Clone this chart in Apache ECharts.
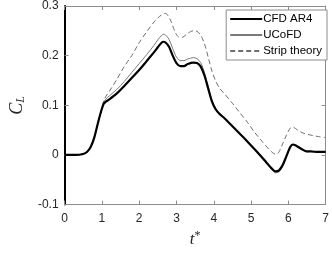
<!DOCTYPE html>
<html><head><meta charset="utf-8">
<script src="https://cdn.jsdelivr.net/npm/echarts@6/dist/echarts.min.js"></script>
<style>html,body{margin:0;padding:0;background:#fff}#c{width:332px;height:253px}</style>
</head><body><div id="c"></div>
<script>
const seriesNames = ['CFD AR4', 'UCoFD', 'Strip theory'];
const xTicks = [0, 1, 2, 3, 4, 5, 6, 7];
const yTicks = [-0.1, 0, 0.1, 0.2, 0.3];

const cfdT = [0,0.3,0.5,0.6,0.7,0.8,0.9,1.0,1.05,1.1,1.2,1.4,1.6,1.8,2.0,2.2,2.4,2.5,2.6,2.65,2.7,2.8,2.9,3.0,3.1,3.2,3.3,3.45,3.55,3.65,3.75,3.85,3.95,4.05,4.15,4.3,4.5,4.8,5.0,5.2,5.4,5.55,5.65,5.75,5.85,5.95,6.05,6.12,6.2,6.35,6.5,6.6,6.8,7.0];
const cfdV = [0,0,0.002,0.006,0.016,0.036,0.066,0.093,0.103,0.107,0.112,0.124,0.139,0.155,0.171,0.189,0.207,0.217,0.226,0.228,0.227,0.218,0.2,0.185,0.179,0.179,0.183,0.186,0.185,0.178,0.16,0.134,0.108,0.092,0.083,0.073,0.058,0.035,0.019,0.003,-0.014,-0.027,-0.033,-0.031,-0.02,-0.002,0.016,0.021,0.019,0.012,0.007,0.007,0.006,0.006];

const ucoT = [0,0.3,0.5,0.6,0.7,0.8,0.9,1.0,1.05,1.1,1.2,1.4,1.6,1.8,2.0,2.2,2.4,2.5,2.6,2.65,2.7,2.8,2.9,3.0,3.1,3.2,3.3,3.45,3.55,3.65,3.75,3.85,3.95,4.05,4.15,4.3,4.5,4.8,5.0,5.2,5.4,5.55,5.65,5.75,5.85,5.95,6.05,6.12,6.2,6.35,6.5,6.6,6.8,7.0];
const ucoV = [0,0,0.002,0.006,0.016,0.036,0.066,0.094,0.106,0.112,0.119,0.132,0.148,0.166,0.184,0.202,0.221,0.232,0.241,0.243,0.242,0.233,0.214,0.197,0.19,0.19,0.193,0.196,0.194,0.186,0.166,0.138,0.11,0.094,0.084,0.074,0.058,0.035,0.019,0.002,-0.016,-0.029,-0.036,-0.034,-0.022,-0.003,0.016,0.021,0.019,0.012,0.006,0.007,0.006,0.006];

const stripT = [0,0.3,0.5,0.6,0.7,0.8,0.9,1.0,1.05,1.1,1.2,1.4,1.6,1.8,2.0,2.2,2.4,2.5,2.6,2.7,2.75,2.85,2.95,3.05,3.15,3.3,3.45,3.55,3.65,3.75,3.85,3.95,4.05,4.15,4.3,4.5,4.7,4.9,5.1,5.3,5.5,5.65,5.72,5.82,5.95,6.05,6.12,6.25,6.4,6.6,6.8,7.0];
const stripV = [0,0,0.002,0.006,0.016,0.036,0.066,0.095,0.109,0.117,0.128,0.152,0.178,0.2,0.226,0.248,0.268,0.276,0.282,0.285,0.283,0.27,0.25,0.238,0.237,0.245,0.25,0.249,0.241,0.224,0.197,0.169,0.149,0.135,0.122,0.104,0.085,0.066,0.045,0.027,0.01,0.002,0.003,0.018,0.04,0.054,0.056,0.05,0.044,0.04,0.037,0.035];

const zip = (a, b) => a.map((t, i) => [t, b[i]]);

const chart = echarts.init(document.getElementById('c'), null, {renderer: 'canvas'});
const labelStyle = {color: '#262626', fontSize: 12, fontFamily: 'Liberation Sans, Arial'};
const grey = '#8c8c8c';
chart.setOption({
  animation: false,
  backgroundColor: '#fff',
  grid: {left: 48, right: 4, top: 5, bottom: 38, containLabel: false},
  legend: {
    data: seriesNames,
    orient: 'vertical',
    right: 5, top: 10,
    backgroundColor: '#fff',
    borderColor: '#8c8c8c', borderWidth: 1,
    padding: [3, 5, 3, 3],
    itemWidth: 32, itemHeight: 12, itemGap: 4,
    itemStyle: {opacity: 0},
    textStyle: {fontSize: 11.5, color: '#000', fontFamily: 'Liberation Sans, Arial', padding: [0,0,0,-4]}
  },
  xAxis: [{
    type: 'value', min: xTicks[0], max: xTicks[xTicks.length-1], interval: 1,
    position: 'bottom',
    axisLine: {show: true, onZero: false, lineStyle: {color: grey, width: 1}},
    axisTick: {inside: true, length: 4, lineStyle: {color: grey}},
    axisLabel: Object.assign({margin: 8}, labelStyle),
    splitLine: {show: false},
    name: '{i|t}{s|*}', nameLocation: 'middle', nameGap: 23,
    nameTextStyle: {rich: {
      i: {fontFamily: 'Liberation Serif', fontStyle: 'italic', fontSize: 17, color: '#262626'},
      s: {fontFamily: 'Liberation Serif', fontSize: 12, color: '#262626', verticalAlign: 'top', padding: [0,0,8,0]}
    }}
  }, {
    type: 'value', min: xTicks[0], max: xTicks[xTicks.length-1], interval: 1,
    position: 'top',
    axisLine: {show: true, onZero: false, lineStyle: {color: grey, width: 1}},
    axisTick: {inside: true, length: 4, lineStyle: {color: grey}},
    axisLabel: {show: false}, splitLine: {show: false}
  }],
  yAxis: [{
    type: 'value', min: yTicks[0], max: yTicks[yTicks.length-1], interval: 0.1,
    position: 'left',
    axisLine: {show: true, onZero: false, lineStyle: {color: '#000', width: 2}},
    axisTick: {show: true, inside: true, length: 4, lineStyle: {color: grey}},
    axisLabel: Object.assign({margin: 6, formatter: v => String(Math.round(v*10)/10)}, labelStyle),
    splitLine: {show: false},
    name: '{c|C}{l|L}', nameLocation: 'middle', nameGap: 28, nameRotate: 90,
    nameTextStyle: {rich: {
      c: {fontFamily: 'Liberation Serif', fontStyle: 'italic', fontSize: 18, color: '#262626'},
      l: {fontFamily: 'Liberation Serif', fontStyle: 'italic', fontSize: 12, color: '#262626', verticalAlign: 'bottom', padding: [8,0,0,0]}
    }}
  }, {
    type: 'value', min: yTicks[0], max: yTicks[yTicks.length-1], interval: 0.1,
    position: 'right',
    axisLine: {show: true, onZero: false, lineStyle: {color: grey, width: 1}},
    axisTick: {show: true, inside: true, length: 4, lineStyle: {color: grey}},
    axisLabel: {show: false}, splitLine: {show: false}
  }],
  series: [
    {name: seriesNames[2], type: 'line', data: zip(stripT, stripV), showSymbol: false, symbol: 'none', smooth: 0.3,
     lineStyle: {color: '#6e6e6e', width: 1, type: [5, 3]}, itemStyle: {color: '#6e6e6e'}, z: 2},
    {name: seriesNames[1], type: 'line', data: zip(ucoT, ucoV), showSymbol: false, symbol: 'none', smooth: 0.3,
     lineStyle: {color: '#7a7a7a', width: 1}, itemStyle: {color: '#7a7a7a'}, z: 3},
    {name: seriesNames[0], type: 'line', data: zip(cfdT, cfdV), showSymbol: false, symbol: 'none', smooth: 0.3,
     lineStyle: {color: '#000', width: 2.2}, itemStyle: {color: '#000'}, z: 4}
  ]
});
</script></body></html>
